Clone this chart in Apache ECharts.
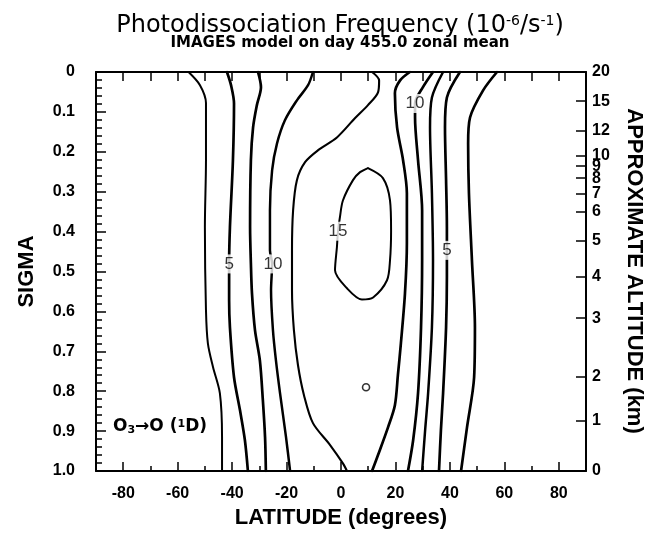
<!DOCTYPE html>
<html>
<head>
<meta charset="utf-8">
<script src="https://cdn.jsdelivr.net/npm/echarts@6/dist/echarts.min.js"></script>
<style>
  html, body { margin: 0; padding: 0; background: #fff; }
  #chart { width: 656px; height: 541px; }
</style>
</head>
<body>
<div id="chart"></div>
<script>
// Latitude tick labels (degrees)
const latLabels = [-80, -60, -40, -20, 0, 20, 40, 60, 80];
const latMinorTicks = [-80, -70, -60, -50, -40, -30, -20, -10, 0, 10, 20, 30, 40, 50, 60, 70, 80];

// Approximate altitude scale on the right: km and the sigma level it sits on
const altitudeKm    = [0,   1,     2,     3,     4,     5,     6,     7,     8,     9,     10,    12,    15,    20];
const altitudeSigma = [1.0, 0.873, 0.763, 0.617, 0.512, 0.422, 0.349, 0.304, 0.266, 0.236, 0.209, 0.146, 0.073, 0];

// Isolines of J(O3 -> O(1D)), 1e-6 s^-1, as [latitude, sigma] traces
const iso2_5South = [[-56, 0], [-51.8, 0.033], [-49.6, 0.078], [-49.6, 0.221], [-50.0, 0.389], [-49.6, 0.597],
  [-48.9, 0.680], [-47.0, 0.740], [-44.5, 0.805], [-43.7, 0.915], [-43.7, 1.0]];
const iso5South = [[-41.9, 0], [-40.4, 0.033], [-39.3, 0.079], [-39.7, 0.221], [-40.8, 0.389], [-41.1, 0.48],
  [-41.1, 0.572], [-40.8, 0.64], [-39.3, 0.765], [-37.1, 0.848], [-35.3, 0.923], [-34.2, 1.0]];
const iso7_5South = [[-30.5, 0], [-29.4, 0.038], [-30.9, 0.083], [-32.3, 0.139], [-33.1, 0.221], [-33.4, 0.389],
  [-33.1, 0.48], [-32.7, 0.555], [-31.6, 0.647], [-29.8, 0.723], [-28.7, 0.823], [-27.9, 0.915], [-27.6, 1.0]];
const iso10South = [[-10.3, 0], [-12.1, 0.033], [-16.2, 0.071], [-20.6, 0.121], [-23.5, 0.179], [-25.3, 0.246],
  [-26.1, 0.347], [-26.1, 0.447], [-25.3, 0.48], [-25.7, 0.547], [-25.0, 0.647], [-23.9, 0.723], [-22.4, 0.805],
  [-20.2, 0.915], [-18.7, 1.0]];
const iso12_5South = [[11.4, 0], [14.0, 0.021], [13.6, 0.051], [9.9, 0.083], [5.1, 0.116], [-1.5, 0.164],
  [-8.4, 0.196], [-13.2, 0.226], [-16.2, 0.271], [-17.6, 0.347], [-18.0, 0.447], [-18.0, 0.547], [-17.3, 0.647],
  [-15.8, 0.735], [-13.6, 0.81], [-10.3, 0.88], [-4.0, 0.935], [0.7, 0.981], [2.2, 1.0]];
const iso12_5North = [[25.3, 0], [21.7, 0.021], [19.8, 0.053], [20.6, 0.139], [22.8, 0.221], [24.2, 0.304],
  [24.2, 0.429], [23.5, 0.555], [22.0, 0.68], [20.9, 0.76], [19.8, 0.835], [17.3, 0.89], [13.6, 0.96], [11.4, 1.0]];
const iso10North = [[33.8, 0], [30.1, 0.038], [27.2, 0.079], [27.2, 0.114], [28.3, 0.221], [29.8, 0.347],
  [29.8, 0.472], [29.4, 0.64], [28.3, 0.805], [26.5, 0.923], [24.6, 1.0]];
const iso7_5North = [[37.5, 0], [33.4, 0.064], [32.7, 0.139], [33.4, 0.304], [33.8, 0.472], [33.4, 0.64],
  [32.0, 0.805], [30.9, 0.898], [29.8, 1.0]];
const iso5North = [[43.7, 0], [38.9, 0.064], [38.2, 0.139], [38.6, 0.271], [38.9, 0.389], [38.9, 0.452],
  [38.9, 0.514], [38.6, 0.64], [37.5, 0.805], [36.7, 0.898], [36.0, 1.0]];
const iso2_5North = [[57.3, 0], [52.2, 0.046], [47.4, 0.114], [46.7, 0.179], [47.0, 0.304], [48.1, 0.472],
  [49.2, 0.64], [48.9, 0.765], [46.3, 0.89], [44.1, 1.0]];
const iso15Core = [[9.9, 0.241], [15.4, 0.266], [18.0, 0.322], [18.4, 0.397], [18.0, 0.472], [16.9, 0.522],
  [11.8, 0.565], [7.7, 0.570], [2.2, 0.542], [-2.2, 0.497], [-1.5, 0.439], [-1.1, 0.399], [-0.4, 0.364],
  [0.7, 0.322], [4.4, 0.271], [7.0, 0.251], [9.9, 0.241]];
const iso15Spot = [[9.2, 0.79]];

// Contour labels: [latitude, sigma, level]
const contourLabels = [[-41.1, 0.481, 5], [-25.0, 0.481, 10], [-1.1, 0.399, 15], [27.2, 0.079, 10], [38.9, 0.447, 5]];

const isolines = [
  { level: 2.5, data: iso2_5South, width: 2 },
  { level: 5, data: iso5South, width: 2.7 },
  { level: 7.5, data: iso7_5South, width: 2.7 },
  { level: 10, data: iso10South, width: 2.5 },
  { level: 12.5, data: iso12_5South, width: 2.1 },
  { level: 12.5, data: iso12_5North, width: 2.7 },
  { level: 10, data: iso10North, width: 2.7 },
  { level: 7.5, data: iso7_5North, width: 2.5 },
  { level: 5, data: iso5North, width: 2.7 },
  { level: 2.5, data: iso2_5North, width: 2.7 },
  { level: 15, data: iso15Core, width: 2 }
];

const FONT = 'DejaVu Sans';
const HELV = 'Liberation Sans';
const chart = echarts.init(document.getElementById('chart'), null, { renderer: 'canvas' });

const series = isolines.map(function (iso) {
  return {
    type: 'line',
    name: 'J ' + iso.level,
    data: iso.data,
    xAxisIndex: 0,
    yAxisIndex: 0,
    showSymbol: false,
    symbol: 'none',
    smooth: 0.3,
    silent: true,
    z: 2,
    lineStyle: { color: '#000', width: iso.width, cap: 'round', join: 'round' }
  };
});

series.push({
  type: 'scatter',
  name: 'J 15 spot',
  data: iso15Spot,
  symbol: 'circle',
  symbolSize: 7,
  silent: true,
  z: 3,
  itemStyle: { color: '#fff', borderColor: '#000', borderWidth: 1.6 }
});

series.push({
  type: 'scatter',
  name: 'labels',
  data: contourLabels,
  symbolSize: 1,
  silent: true,
  z: 5,
  itemStyle: { color: 'rgba(0,0,0,0)' },
  label: {
    show: true,
    position: 'inside',
    formatter: function (p) { return String(p.value[2]); },
    fontFamily: HELV,
    fontSize: 17,
    color: '#000',
    backgroundColor: '#fff',
    padding: [1, 1]
  }
});

const axisLineStyle = { color: '#000', width: 2 };
const tickFont = { fontFamily: HELV, fontSize: 16, fontWeight: 'bold', color: '#000' };
const nameFont = { fontFamily: HELV, fontSize: 22, fontWeight: 'bold', color: '#000' };

const option = {
  animation: false,
  backgroundColor: '#fff',
  title: [
    {
      text: 'Photodissociation Frequency (10{sup|-6}/s{sup|-1})',
      left: 335,
      top: 9,
      textAlign: 'center',
      textStyle: {
        fontFamily: FONT, fontSize: 24, fontWeight: 'normal', color: '#000',
        rich: {
          sup: { fontFamily: FONT, fontSize: 14, color: '#000', verticalAlign: 'top' }
        }
      }
    },
    {
      text: 'IMAGES model on day 455.0 zonal mean',
      left: 335,
      top: 31,
      textAlign: 'center',
      textStyle: { fontFamily: FONT, fontSize: 15, fontWeight: 'bold', color: '#000' }
    }
  ],
  grid: { left: 96, right: 70, top: 72, bottom: 70, outerBoundsMode: 'none' },
  xAxis: [
    {
      type: 'value', position: 'bottom', min: -90, max: 90, interval: 10,
      axisLine: { show: true, onZero: false, lineStyle: axisLineStyle },
      axisTick: { show: true, inside: true, length: 5, lineStyle: { color: '#000', width: 1.5 } },
      axisLabel: Object.assign({
        show: true, customValues: latLabels, margin: 15,
        formatter: function (v) { return String(v); }
      }, tickFont),
      splitLine: { show: false },
      name: 'LATITUDE (degrees)', nameLocation: 'middle', nameGap: 36,
      nameTextStyle: nameFont
    },
    {
      type: 'value', position: 'bottom', min: -90, max: 90,
      axisLine: { show: false, onZero: false },
      axisTick: { show: true, inside: true, length: 9, customValues: latLabels, lineStyle: { color: '#000', width: 1.5 } },
      axisLabel: { show: false },
      splitLine: { show: false }
    },
    {
      type: 'value', position: 'top', min: -90, max: 90,
      axisLine: { show: true, onZero: false, lineStyle: axisLineStyle },
      axisTick: { show: true, inside: true, length: 9, customValues: latMinorTicks, lineStyle: { color: '#000', width: 1.5 } },
      axisLabel: { show: false },
      splitLine: { show: false }
    }
  ],
  yAxis: [
    {
      type: 'value', position: 'left', inverse: true, min: 0, max: 1, interval: 0.1,
      axisLine: { show: true, onZero: false, lineStyle: axisLineStyle },
      axisTick: { show: true, inside: true, length: 10, lineStyle: { color: '#000', width: 1.5 } },
      minorTick: { show: true, splitNumber: 5, length: 6, lineStyle: { color: '#000', width: 1.5 } },
      axisLabel: Object.assign({
        margin: 21,
        formatter: function (v) { return v === 0 ? '0' : v.toFixed(1); }
      }, tickFont),
      splitLine: { show: false },
      name: 'SIGMA', nameLocation: 'middle', nameGap: 58, nameRotate: 90,
      nameTextStyle: nameFont
    },
    {
      type: 'value', position: 'right', inverse: true, min: 0, max: 1,
      axisLine: { show: true, onZero: false, lineStyle: axisLineStyle },
      axisTick: { show: true, inside: true, length: 10, customValues: altitudeSigma, lineStyle: { color: '#000', width: 1.5 } },
      axisLabel: Object.assign({
        show: true, customValues: altitudeSigma, margin: 6,
        formatter: function (v) {
          const i = altitudeSigma.indexOf(v);
          return i >= 0 ? String(altitudeKm[i]) : '';
        }
      }, tickFont),
      splitLine: { show: false }
    }
  ],
  graphic: [
    {
      type: 'text',
      x: 634, y: 271,
      rotation: -Math.PI / 2,
      style: {
        text: 'APPROXIMATE ALTITUDE (km)',
        fontFamily: HELV, fontSize: 22, fontWeight: 'bold', fill: '#000',
        align: 'center', verticalAlign: 'middle'
      }
    },
    {
      type: 'text',
      x: 113, y: 427,
      style: {
        text: 'O{sub|3}→O ({sup|1}D)',
        fontFamily: FONT, fontSize: 17, fontWeight: 'bold', fill: '#000',
        align: 'left', verticalAlign: 'middle',
        rich: {
          sub: { fontFamily: FONT, fontSize: 11, fontWeight: 'bold', fill: '#000', verticalAlign: 'bottom' },
          sup: { fontFamily: FONT, fontSize: 11, fontWeight: 'bold', fill: '#000', verticalAlign: 'top' }
        }
      }
    }
  ],
  series: series
};

chart.setOption(option);
</script>
</body>
</html>
